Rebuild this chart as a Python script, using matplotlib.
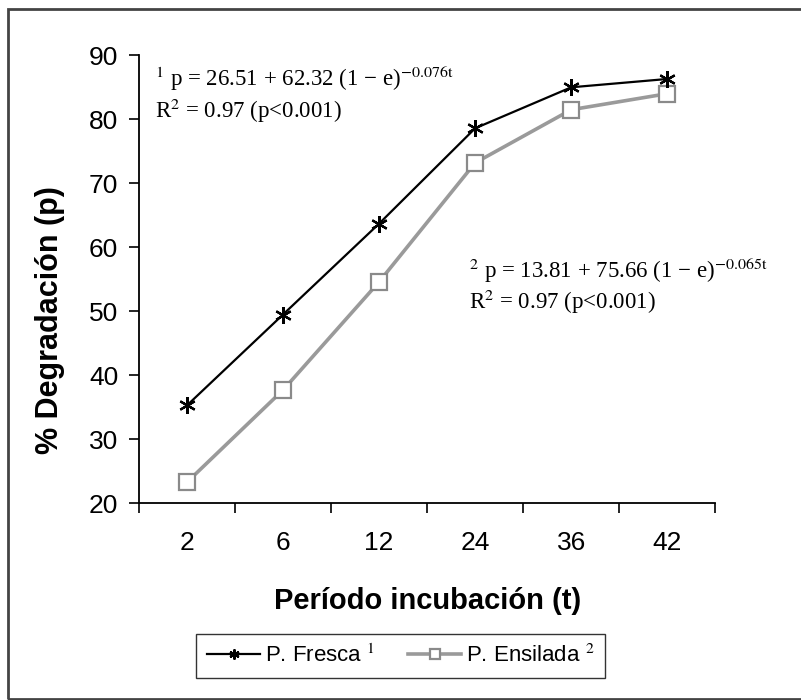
import numpy as np
import matplotlib.pyplot as plt
from matplotlib.patches import Rectangle

plt.rcParams['font.family'] = ['Liberation Sans', 'DejaVu Sans']
plt.rcParams['mathtext.fontset'] = 'stix'

periodos = ['2', '6', '12', '24', '36', '42']
fresca = [35.3, 49.5, 63.7, 78.6, 85.0, 86.3]
ensilada = [23.3, 37.7, 54.6, 73.2, 81.5, 84.0]

fig = plt.figure(figsize=(8.01, 7.0), dpi=100)
ax = fig.add_axes([0.1735, 0.281, 0.7195, 0.64])

x = np.arange(len(periodos))
ax.plot(x, fresca, color='black', lw=1.6, marker=(6, 2, 0), markersize=12,
        markeredgewidth=1.6, label='P. Fresca $^{1}$', zorder=3)
ax.plot(x, ensilada, color='#9a9a9a', lw=2.6, marker='s', markersize=11,
        markerfacecolor='white', markeredgecolor='#8a8a8a', markeredgewidth=1.6,
        label='P. Ensilada $^{2}$', zorder=2)

ax.set_xlim(-0.5, len(periodos) - 0.5)
ax.set_ylim(20, 90)
ax.set_yticks(range(20, 91, 10))
ax.set_xticks(np.arange(-0.5, len(periodos), 1.0))
ax.set_xticklabels([])
ax.set_xticks(x, minor=True)
ax.set_xticklabels(periodos, minor=True)
ax.tick_params(axis='x', which='major', direction='out', length=7, width=1.2)
ax.tick_params(axis='x', which='minor', length=0, pad=20, labelsize=19)
ax.tick_params(axis='y', direction='out', length=7, width=1.2, labelsize=19, pad=8)

for s in ['top', 'right']:
    ax.spines[s].set_visible(False)
for s in ['left', 'bottom']:
    ax.spines[s].set_linewidth(1.3)

ax.set_xlabel('Período incubación (t)', fontsize=21, fontweight='bold', labelpad=23)
ax.set_ylabel('% Degradación (p)', fontsize=22, fontweight='bold')
ax.yaxis.set_label_coords(-0.128, 0.41)

serif = ['Liberation Serif', 'DejaVu Serif']
fs = 16.5
ax.text(0.027, 0.949, r'$^{1}$ p = 26.51 + 62.32 (1 − e)$^{\mathrm{-0.076t}}$',
        transform=ax.transAxes, family=serif, fontsize=fs, va='center')
ax.text(0.027, 0.877, 'R$^{2}$ = 0.97 (p<0.001)',
        transform=ax.transAxes, family=serif, fontsize=fs, va='center')
ax.text(0.573, 0.52, r'$^{2}$ p = 13.81 + 75.66 (1 − e)$^{\mathrm{-0.065t}}$',
        transform=ax.transAxes, family=serif, fontsize=fs, va='center')
ax.text(0.573, 0.449, 'R$^{2}$ = 0.97 (p<0.001)',
        transform=ax.transAxes, family=serif, fontsize=fs, va='center')

leg = fig.legend(loc='center', bbox_to_anchor=(0.5, 0.063), ncol=2, fontsize=16,
                 frameon=True, fancybox=False, edgecolor='black', handlelength=2.4,
                 handletextpad=0.2, columnspacing=1.5, borderpad=0.5, markerscale=0.6)
leg.get_frame().set_linewidth(1.0)

fig.patches.append(Rectangle((8 / 801, 1 / 700), 1.0, 1 - 10 / 700, transform=fig.transFigure,
                             fill=False, edgecolor='#444444', lw=2.0))

fig.savefig('out.png', dpi=100)
